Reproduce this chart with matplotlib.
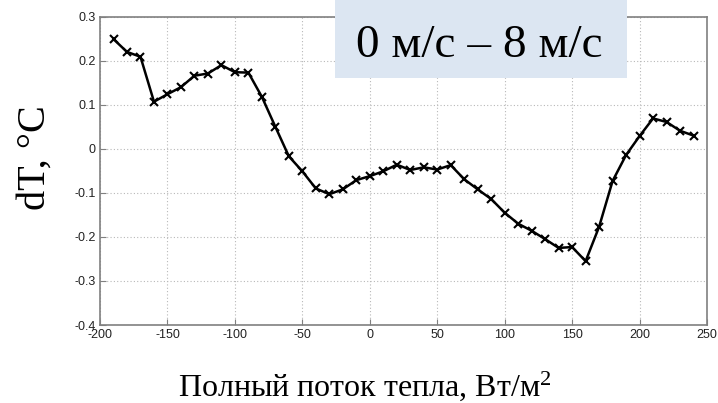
import matplotlib
matplotlib.use("Agg")
import matplotlib.pyplot as plt
from matplotlib.patches import Rectangle

plt.rcParams["mathtext.fontset"] = "custom"
plt.rcParams["mathtext.rm"] = "Liberation Serif"
plt.rcParams["mathtext.it"] = "Liberation Serif:italic"

# Total heat flux (W/m^2) and temperature difference dT (°C)
flux = [-190, -180, -170, -160, -150, -140, -130, -120, -110, -100,
        -90, -80, -70, -60, -50, -40, -30, -20, -10, 0,
        10, 20, 30, 40, 50, 60, 70, 80, 90, 100,
        110, 120, 130, 140, 150, 160, 170, 180, 190, 200,
        210, 220, 230, 240]
dT = [0.249, 0.220, 0.209, 0.107, 0.124, 0.140, 0.166, 0.171, 0.190, 0.174,
      0.173, 0.118, 0.050, -0.017, -0.051, -0.090, -0.103, -0.092, -0.071, -0.062,
      -0.051, -0.036, -0.048, -0.042, -0.047, -0.037, -0.069, -0.092, -0.114, -0.145,
      -0.170, -0.186, -0.205, -0.225, -0.223, -0.255, -0.177, -0.073, -0.014, 0.029,
      0.069, 0.061, 0.041, 0.030]

x_ticks = [-200, -150, -100, -50, 0, 50, 100, 150, 200, 250]
x_tick_labels = ["-200", "-150", "-100", "-50", "0", "50", "100", "150", "200", "250"]
y_ticks = [-0.4, -0.3, -0.2, -0.1, 0.0, 0.1, 0.2, 0.3]
y_tick_labels = ["-0.4", "-0.3", "-0.2", "-0.1", "0", "0.1", "0.2", "0.3"]

fig = plt.figure(figsize=(7.18, 4.03), dpi=100)
ax = fig.add_axes([0.1393, 0.1935, 0.8454, 0.7651])

ax.plot(flux, dT, color="black", lw=1.8, marker="x", ms=6, mew=1.5, zorder=3)

ax.set_xlim(-200, 250)
ax.set_ylim(-0.4, 0.3)
ax.set_xticks(x_ticks)
ax.set_xticklabels(x_tick_labels)
ax.set_yticks(y_ticks)
ax.set_yticklabels(y_tick_labels)

for lbl in ax.get_xticklabels() + ax.get_yticklabels():
    lbl.set_fontfamily("Liberation Sans")
    lbl.set_fontsize(9)
    lbl.set_color("#222222")

ax.tick_params(direction="in", length=4, width=0.8, color="#808080", pad=3,
               top=False, right=False)
ax.grid(True, color="#b8b8b8", linestyle=(0, (1, 2)), lw=0.8)
for sp in ax.spines.values():
    sp.set_color("#808080")
    sp.set_linewidth(1.2)

fig.text(0.049, 0.61, "dT, °C", rotation=90, ha="center", va="center",
         fontsize=29, family="Liberation Serif")
fig.text(0.508, 1 - 396 / 403, "Полный поток тепла, Вт/м$^2$", ha="center",
         va="baseline", fontsize=23, family="Liberation Serif")

# Speed-range caption
fig.patches.append(Rectangle((335 / 718, 1 - 78 / 403), 292 / 718, 78 / 403,
                             transform=fig.transFigure, facecolor="#dce6f2",
                             edgecolor="none", zorder=5))
fig.text(479 / 718, 1 - 57 / 403, "0 м/с – 8 м/с", ha="center", va="baseline",
         fontsize=34, family="Liberation Serif", zorder=6)

fig.savefig("out.png", dpi=100)
